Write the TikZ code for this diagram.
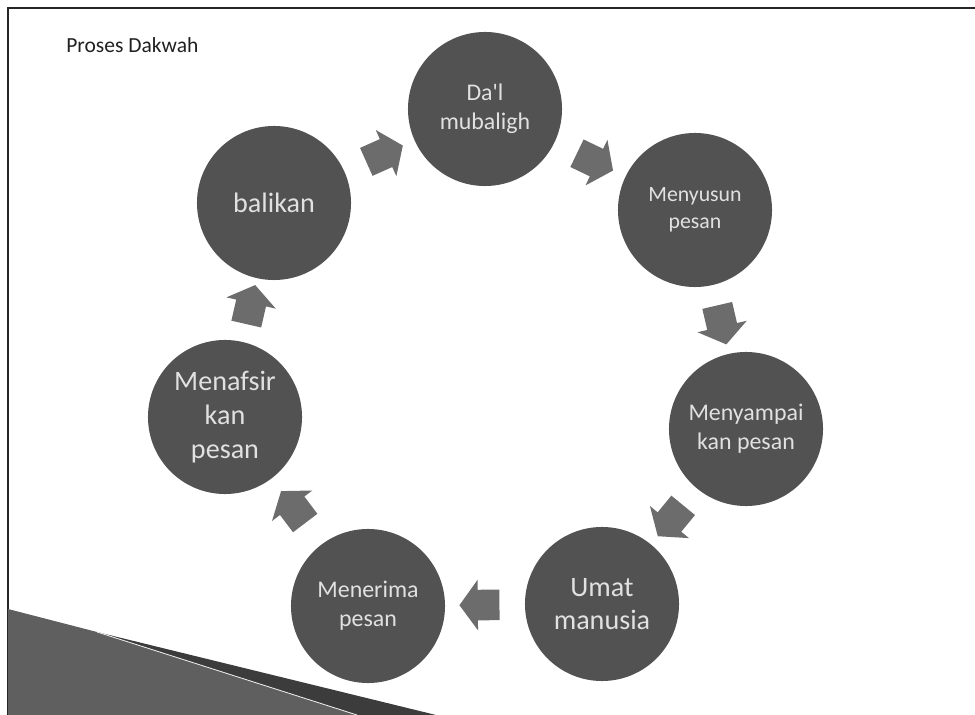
\documentclass[tikz,border=0pt]{standalone}
\usepackage{fontspec}
\setmainfont{Carlito}
\usepackage{xcolor}
\usetikzlibrary{shapes,arrows,positioning,calc}

\definecolor{ballgray}{RGB}{82,82,82}
\definecolor{flowgray}{RGB}{108,108,108}
\definecolor{balltext}{RGB}{225,225,225}
\definecolor{wedgegray}{RGB}{95,95,95}
\definecolor{wedgedark}{RGB}{60,60,60}

\begin{document}
\begin{tikzpicture}[x=0.025cm,y=-0.025cm,
  ball/.style={circle,fill=ballgray,minimum size=3.85cm,inner sep=0pt,align=center,
    text=balltext,font=\fontsize{17}{20.5}\selectfont},
  smalltxt/.style={font=\fontsize{15.5}{19}\selectfont},
  bigtxt/.style={font=\fontsize{20}{24}\selectfont},
  flow/.style={single arrow,fill=flowgray,sloped,allow upside down,
    inner xsep=0pt,inner ysep=0.375cm,text width=0pt,
    minimum height=1cm,single arrow head extend=0.25cm,
    single arrow tip angle=108}]
\useasboundingbox (0,0) rectangle (975,715);

% slide frame and corner decoration
\draw[line width=0.05cm,gray!30!black] (8,715) -- (8,8) -- (975,8);
\fill[wedgegray] (8,609) -- (97,632) -- (357,715) -- (8,715) -- cycle;
\fill[wedgedark] (97,632) -- (436,715) -- (357,715) -- cycle;
\draw[white!85!gray,line width=0.6pt] (97,632) -- (357,715);

\node[anchor=base west,inner sep=0pt,text=gray!25!black,font=\fontsize{15.3}{18}\selectfont] (title) at (66,53) {Proses Dakwah};

% cycle
\node[ball] (dai) at (485,109) {Da\textquotesingle l\\mubaligh};
\node[ball,smalltxt] (menyusun) at (695,210) {Menyusun\\pesan};
\node[ball] (menyampai) at (746,429) {Menyampai\\kan pesan};
\node[ball,bigtxt] (umat) at (602,604) {Umat\\manusia};
\node[ball] (menerima) at (368,606) {Menerima\\pesan};
\node[ball,bigtxt] (menafsir) at (225,417) {Menafsir\\kan\\pesan};
\node[ball,bigtxt] (balikan) at (274,203) {balikan};

\path (dai) -- node[flow] {} (menyusun);
\path (menyusun) -- node[flow] {} (menyampai);
\path (menyampai) -- node[flow] {} (umat);
\path (umat) -- node[flow] {} (menerima);
\path (menerima) -- node[flow] {} (menafsir);
\path (menafsir) -- node[flow] {} (balikan);
\path (balikan) -- node[flow] {} (dai);
\end{tikzpicture}
\end{document}
